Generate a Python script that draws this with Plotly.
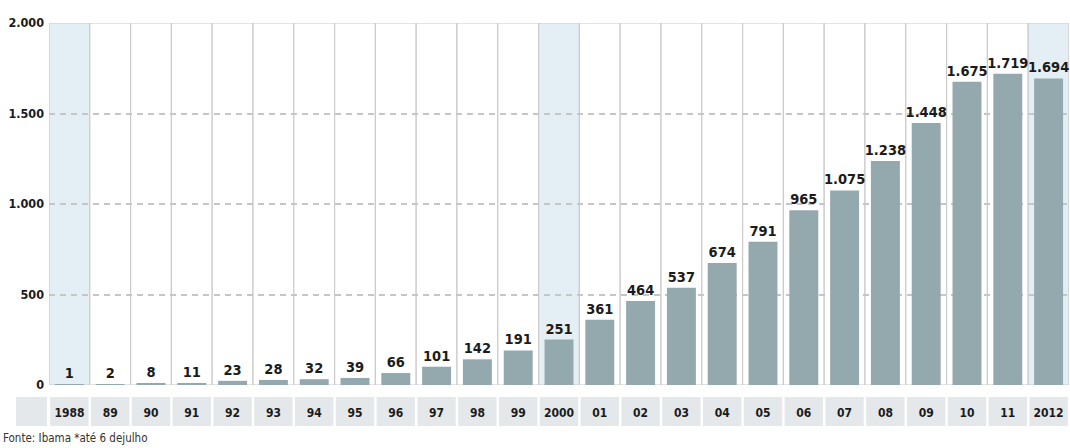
import plotly.graph_objects as go

# Annual counts, 1988-2012
years = ["1988", "89", "90", "91", "92", "93", "94", "95", "96", "97", "98", "99",
         "2000", "01", "02", "03", "04", "05", "06", "07", "08", "09", "10", "11", "2012"]
values = [1, 2, 8, 11, 23, 28, 32, 39, 66, 101, 142, 191,
          251, 361, 464, 537, 674, 791, 965, 1075, 1238, 1448, 1675, 1719, 1694]
highlighted = ["1988", "2000", "2012"]
y_ticks = [0, 500, 1000, 1500, 2000]
source_note = "Fonte: Ibama *até 6 dejulho"

FONT = "Liberation Sans Narrow, DejaVu Sans Condensed, Arial Narrow, sans-serif"
BAR = "#94a9ae"
INK = "#1b1b1b"

W, H = 1070, 448
M_L, M_R, M_T, M_B = 49, 1, 23, 63
plot_h = H - M_T - M_B

xpos = list(range(len(years)))

fig = go.Figure()
fig.add_trace(go.Bar(
    x=xpos, y=values,
    marker=dict(color=BAR, line=dict(width=0)),
    width=0.71,
    text=values,
    texttemplate="%{y:,}",
    textposition="outside",
    constraintext="none",
    textfont=dict(family=FONT, size=14.5, color=INK, weight="bold"),
    cliponaxis=False,
    hoverinfo="skip",
))

shapes = []
# column panels with grey borders
for i, yr in enumerate(years):
    shapes.append(dict(
        type="rect", xref="x", yref="y", layer="below",
        x0=i - 0.5, x1=i + 0.5, y0=0, y1=2000,
        fillcolor="#e4eef5" if yr in highlighted else "#ffffff",
        line=dict(color="#cbcbcb", width=1.2),
    ))

# grey label cells below the axis
def to_paper(px):
    return -(px - (H - M_B)) / plot_h

band_y0, band_y1 = to_paper(426), to_paper(397)
gap = 0.03
for i in xpos:
    shapes.append(dict(
        type="rect", xref="x", yref="paper", layer="below",
        x0=i - 0.5 + gap, x1=i + 0.5 - gap, y0=band_y0, y1=band_y1,
        fillcolor="#e5e8ea", line=dict(width=0),
    ))
plot_w = W - M_L - M_R
shapes.append(dict(
    type="rect", xref="paper", yref="paper", layer="below",
    x0=(16 - M_L) / plot_w, x1=(47 - M_L) / plot_w, y0=band_y0, y1=band_y1,
    fillcolor="#e5e8ea", line=dict(width=0),
))

fig.update_layout(
    width=W, height=H,
    margin=dict(l=M_L, r=M_R, t=M_T, b=M_B),
    paper_bgcolor="#ffffff",
    plot_bgcolor="#ffffff",
    separators=",.",
    showlegend=False,
    bargap=0.29,
    shapes=shapes,
    font=dict(family=FONT, color=INK),
    xaxis=dict(
        range=[-0.5, len(years) - 0.5],
        tickvals=xpos, ticktext=years,
        showgrid=False, zeroline=False, showline=False,
        ticks="", ticklabelstandoff=19,
        tickfont=dict(family=FONT, size=12, color=INK, weight="bold"),
        fixedrange=True,
    ),
    yaxis=dict(
        range=[0, 2000],
        tickvals=y_ticks, tickformat=",",
        showgrid=True, gridcolor="#c6c6c6", gridwidth=1.5, griddash="6px,5px",
        zeroline=False, showline=False, ticks="",
        ticklabelstandoff=4,
        tickfont=dict(family=FONT, size=12.5, color=INK, weight="bold"),
        fixedrange=True,
    ),
    annotations=[dict(
        text=source_note, xref="paper", yref="paper",
        x=(1 - M_L) / plot_w, y=to_paper(438),
        xanchor="left", yanchor="middle", showarrow=False,
        font=dict(family=FONT, size=11.5, color="#333333"),
    )],
)

fig.write_html("out.html")
